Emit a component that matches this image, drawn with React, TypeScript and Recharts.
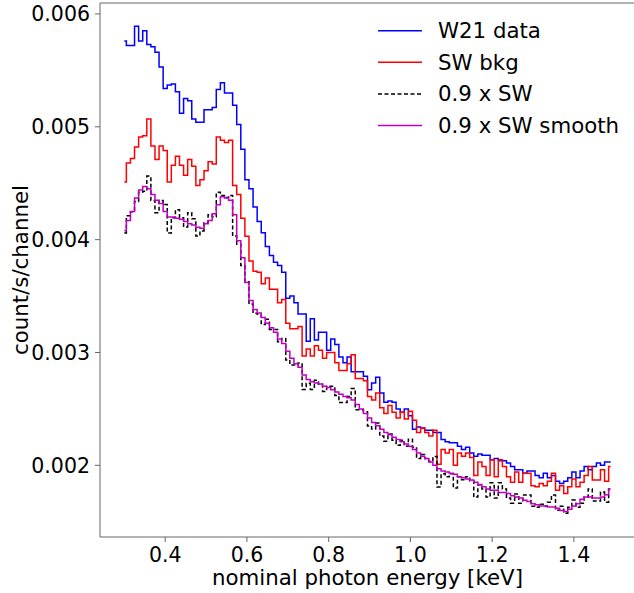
import React from 'react';
import { LineChart, Line, XAxis, YAxis, ReferenceLine, Label } from 'recharts';

const FONT = '"DejaVu Sans", sans-serif';
const TITLE_SIZE = 21.3;
const TICK_SIZE = 20.5;

// channel energies (keV)
const energy = [
  0.30, 0.31, 0.32, 0.33, 0.34, 0.35, 0.36, 0.37, 0.38, 0.39,
  0.40, 0.41, 0.42, 0.43, 0.44, 0.45, 0.46, 0.47, 0.48, 0.49,
  0.50, 0.51, 0.52, 0.53, 0.54, 0.55, 0.56, 0.57, 0.58, 0.59,
  0.60, 0.61, 0.62, 0.63, 0.64, 0.65, 0.66, 0.67, 0.68, 0.69,
  0.70, 0.71, 0.72, 0.73, 0.74, 0.75, 0.76, 0.77, 0.78, 0.79,
  0.80, 0.81, 0.82, 0.83, 0.84, 0.85, 0.86, 0.87, 0.88, 0.89,
  0.90, 0.91, 0.92, 0.93, 0.94, 0.95, 0.96, 0.97, 0.98, 0.99,
  1.00, 1.01, 1.02, 1.03, 1.04, 1.05, 1.06, 1.07, 1.08, 1.09,
  1.10, 1.11, 1.12, 1.13, 1.14, 1.15, 1.16, 1.17, 1.18, 1.19,
  1.20, 1.21, 1.22, 1.23, 1.24, 1.25, 1.26, 1.27, 1.28, 1.29,
  1.30, 1.31, 1.32, 1.33, 1.34, 1.35, 1.36, 1.37, 1.38, 1.39,
  1.40, 1.41, 1.42, 1.43, 1.44, 1.45, 1.46, 1.47, 1.48, 1.49,
];

const w21Data = [
  0.00576, 0.00572, 0.00572, 0.00589, 0.00576, 0.00585, 0.00573, 0.00571, 0.00566, 0.00553,
  0.00534, 0.00537, 0.00538, 0.00531, 0.00512, 0.00525, 0.00523, 0.00507, 0.00504, 0.00504,
  0.00515, 0.00515, 0.00517, 0.00533, 0.00539, 0.00530, 0.00530, 0.00519, 0.00502, 0.00480,
  0.00453, 0.00445, 0.00429, 0.00416, 0.00406, 0.00394, 0.00386, 0.00380, 0.00377, 0.00371,
  0.00348, 0.00350, 0.00344, 0.00334, 0.00334, 0.00310, 0.00330, 0.00311, 0.00318, 0.00318,
  0.00302, 0.00312, 0.00307, 0.00296, 0.00291, 0.00296, 0.00283, 0.00283, 0.00283, 0.00279,
  0.00267, 0.00273, 0.00278, 0.00264, 0.00256, 0.00257, 0.00256, 0.00250, 0.00247, 0.00250,
  0.00244, 0.00232, 0.00234, 0.00233, 0.00231, 0.00231, 0.00229, 0.00229, 0.00223, 0.00221,
  0.00220, 0.00220, 0.00217, 0.00214, 0.00216, 0.00211, 0.00208, 0.00210, 0.00209, 0.00209,
  0.00205, 0.00206, 0.00204, 0.00204, 0.00202, 0.00199, 0.00196, 0.00196, 0.00193, 0.00195,
  0.00195, 0.00191, 0.00189, 0.00193, 0.00189, 0.00191, 0.00186, 0.00184, 0.00186, 0.00189,
  0.00194, 0.00189, 0.00195, 0.00199, 0.00196, 0.00199, 0.00202, 0.00200, 0.00203, 0.00203,
];

const swBkg = [
  0.00451, 0.00468, 0.00472, 0.00482, 0.00491, 0.00492, 0.00507, 0.00483, 0.00471, 0.00483,
  0.00479, 0.00451, 0.00466, 0.00474, 0.00466, 0.00457, 0.00471, 0.00465, 0.00448, 0.00453,
  0.00461, 0.00469, 0.00467, 0.00491, 0.00488, 0.00486, 0.00488, 0.00448, 0.00440, 0.00419,
  0.00403, 0.00381, 0.00372, 0.00371, 0.00361, 0.00366, 0.00356, 0.00356, 0.00344, 0.00347,
  0.00326, 0.00321, 0.00321, 0.00323, 0.00297, 0.00303, 0.00297, 0.00306, 0.00302, 0.00295,
  0.00300, 0.00300, 0.00291, 0.00284, 0.00284, 0.00290, 0.00298, 0.00277, 0.00277, 0.00275,
  0.00261, 0.00258, 0.00264, 0.00251, 0.00246, 0.00253, 0.00247, 0.00242, 0.00247, 0.00241,
  0.00248, 0.00240, 0.00229, 0.00233, 0.00229, 0.00226, 0.00231, 0.00201, 0.00214, 0.00211,
  0.00214, 0.00200, 0.00211, 0.00208, 0.00211, 0.00207, 0.00191, 0.00203, 0.00199, 0.00191,
  0.00205, 0.00190, 0.00205, 0.00199, 0.00190, 0.00185, 0.00194, 0.00185, 0.00193, 0.00193,
  0.00182, 0.00181, 0.00184, 0.00182, 0.00186, 0.00193, 0.00178, 0.00182, 0.00175, 0.00181,
  0.00188, 0.00181, 0.00185, 0.00191, 0.00199, 0.00187, 0.00187, 0.00196, 0.00186, 0.00199,
];

const sw09 = [
  0.004059, 0.004212, 0.004248, 0.004338, 0.004419, 0.004428, 0.004563, 0.004347, 0.004239, 0.004347,
  0.004311, 0.004059, 0.004194, 0.004266, 0.004194, 0.004113, 0.004239, 0.004185, 0.004032, 0.004077,
  0.004149, 0.004221, 0.004203, 0.004419, 0.004392, 0.004374, 0.004392, 0.004032, 0.003960, 0.003771,
  0.003627, 0.003429, 0.003348, 0.003339, 0.003249, 0.003294, 0.003204, 0.003204, 0.003096, 0.003123,
  0.002934, 0.002889, 0.002889, 0.002907, 0.002673, 0.002727, 0.002673, 0.002754, 0.002718, 0.002655,
  0.002700, 0.002700, 0.002619, 0.002556, 0.002556, 0.002610, 0.002682, 0.002493, 0.002493, 0.002475,
  0.002349, 0.002322, 0.002376, 0.002259, 0.002214, 0.002277, 0.002223, 0.002178, 0.002223, 0.002169,
  0.002232, 0.002160, 0.002061, 0.002097, 0.002061, 0.002034, 0.002079, 0.001809, 0.001926, 0.001899,
  0.001926, 0.001800, 0.001899, 0.001872, 0.001899, 0.001863, 0.001719, 0.001827, 0.001791, 0.001719,
  0.001845, 0.001710, 0.001845, 0.001791, 0.001710, 0.001665, 0.001746, 0.001665, 0.001737, 0.001737,
  0.001638, 0.001629, 0.001656, 0.001638, 0.001674, 0.001737, 0.001602, 0.001638, 0.001575, 0.001629,
  0.001692, 0.001629, 0.001665, 0.001719, 0.001791, 0.001683, 0.001683, 0.001764, 0.001674, 0.001791,
];

const sw09Smooth = [
  0.00408, 0.00417, 0.00425, 0.00437, 0.00444, 0.00447, 0.00445, 0.00440, 0.00435, 0.00432,
  0.00425, 0.00420, 0.00420, 0.00419, 0.00418, 0.00416, 0.00414, 0.00413, 0.00411, 0.00410,
  0.00414, 0.00417, 0.00423, 0.00431, 0.00438, 0.00437, 0.00435, 0.00422, 0.00399, 0.00384,
  0.00362, 0.00346, 0.00338, 0.00335, 0.00331, 0.00326, 0.00322, 0.00318, 0.00312, 0.00308,
  0.00301, 0.00295, 0.00290, 0.00287, 0.00280, 0.00276, 0.00274, 0.00273, 0.00272, 0.00270,
  0.00269, 0.00267, 0.00265, 0.00263, 0.00261, 0.00260, 0.00258, 0.00254, 0.00250, 0.00246,
  0.00242, 0.00238, 0.00235, 0.00232, 0.00229, 0.00227, 0.00225, 0.00223, 0.00221, 0.00219,
  0.00217, 0.00214, 0.00211, 0.00208, 0.00206, 0.00203, 0.00200, 0.00197, 0.00195, 0.00194,
  0.00193, 0.00192, 0.00190, 0.00189, 0.00188, 0.00187, 0.00185, 0.00183, 0.00181, 0.00179,
  0.00178, 0.00178, 0.00176, 0.00176, 0.00175, 0.00173, 0.00172, 0.00171, 0.00169, 0.00168,
  0.00166, 0.00165, 0.00164, 0.00164, 0.00163, 0.00163, 0.00162, 0.00160, 0.00159, 0.00161,
  0.00164, 0.00166, 0.00170, 0.00172, 0.00172, 0.00171, 0.00171, 0.00172, 0.00174, 0.00179,
];

const xTicks = [0.4, 0.6, 0.8, 1.0, 1.2, 1.4];
const yTicks = [0.002, 0.003, 0.004, 0.005, 0.006];
const X_MIN = 0.2405;
const X_MAX = 1.5495;
const Y_MIN = 0.001365;
const Y_MAX = 0.006097;

const series = [
  { key: 'w21', name: 'W21 data', color: '#0000ff', dash: undefined },
  { key: 'sw', name: 'SW bkg', color: '#ff0000', dash: undefined },
  { key: 'sw09', name: '0.9 x SW', color: '#000000', dash: '4 2.5' },
  { key: 'smooth', name: '0.9 x SW smooth', color: '#bf00bf', dash: undefined },
];

const rows = energy.map((e, i) => ({
  e,
  w21: w21Data[i],
  sw: swBkg[i],
  sw09: sw09[i],
  smooth: sw09Smooth[i],
}));

const axisColor = '#666';
const tickStyle = { fill: '#000', fontSize: TICK_SIZE, fontFamily: FONT };

const YTitle = ({ viewBox }: any) => {
  const x = viewBox.x + 20;
  const y = viewBox.y + viewBox.height / 2;
  return (
    <text x={x} y={y} transform={`rotate(-90 ${x} ${y})`} textAnchor="middle"
      dominantBaseline="central" fontSize={TITLE_SIZE} fontFamily={FONT} fill="#000">
      count/s/channel
    </text>
  );
};

const XTitle = ({ viewBox }: any) => (
  <text x={viewBox.x + viewBox.width / 2} y={viewBox.y + 48} textAnchor="middle"
    fontSize={TITLE_SIZE} fontFamily={FONT} fill="#000">
    nominal photon energy [keV]
  </text>
);

const LegendBox = () => (
  <svg width={264} height={150} style={{ position: 'absolute', left: 370, top: 0 }}>
    {series.map((s, i) => {
      const y = 30.7 + i * 31.6;
      return (
        <g key={s.key}>
          <line x1={8} x2={52} y1={y} y2={y} stroke={s.color} strokeWidth={1.5}
            strokeDasharray={s.dash} />
          <text x={68} y={y} dominantBaseline="central" fontSize={TITLE_SIZE} fontFamily={FONT} fill="#000">
            {s.name}
          </text>
        </g>
      );
    })}
  </svg>
);

export default function App() {
  return (
    <div style={{ position: 'absolute', left: 0, top: 0, width: 634, height: 593, overflow: 'hidden', background: '#fff' }}>
      <LineChart width={640} height={593} data={rows} margin={{ top: 3, right: 5, bottom: 0, left: 0 }}>
        <XAxis dataKey="e" type="number" domain={[X_MIN, X_MAX]} ticks={xTicks} allowDataOverflow
          tickFormatter={(v: number) => v.toFixed(1)} height={56} stroke={axisColor}
          tick={tickStyle} tickSize={5} tickMargin={5}>
          <Label content={XTitle} />
        </XAxis>
        <YAxis type="number" domain={[Y_MIN, Y_MAX]} ticks={yTicks} allowDataOverflow
          tickFormatter={(v: number) => v.toFixed(3)} width={100} stroke={axisColor}
          tick={tickStyle} tickSize={5} tickMargin={5}>
          <Label content={YTitle} />
        </YAxis>
        <ReferenceLine y={Y_MAX} stroke={axisColor} />
        <ReferenceLine x={X_MAX} stroke={axisColor} />
        {series.map((s) => (
          <Line key={s.key} type="step" dataKey={s.key} stroke={s.color} strokeWidth={1.5}
            strokeDasharray={s.dash} dot={false} activeDot={false} isAnimationActive={false} />
        ))}
      </LineChart>
      <LegendBox />
    </div>
  );
}
